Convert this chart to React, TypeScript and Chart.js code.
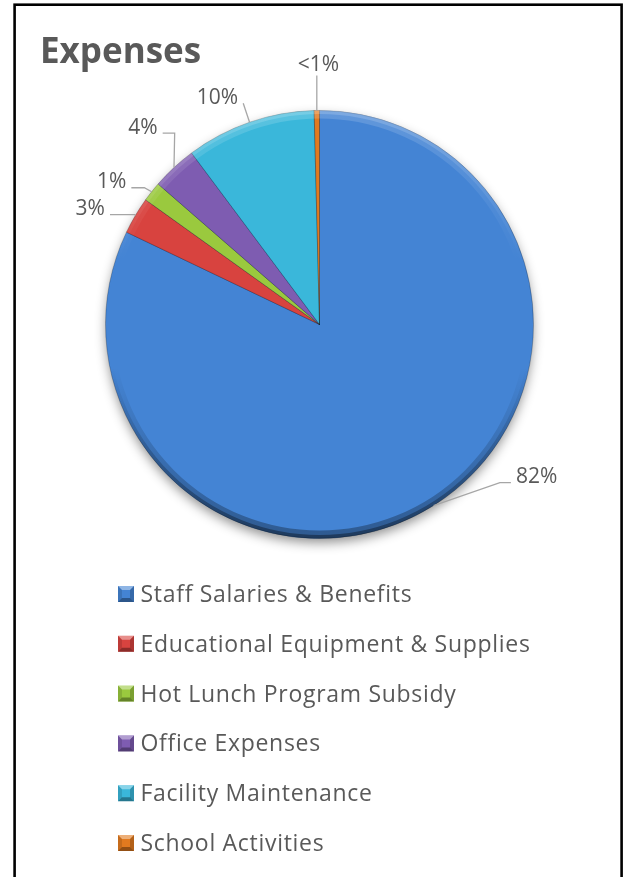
import React, { useEffect, useRef } from "react";
import { Chart, registerables } from "chart.js";

Chart.register(...registerables);

// ---- data ----
const TITLE = "Expenses";
const categories = [
  "Staff Salaries & Benefits",
  "Educational Equipment & Supplies",
  "Hot Lunch Program Subsidy",
  "Office Expenses",
  "Facility Maintenance",
  "School Activities",
];
const shares = [82.1, 2.8, 1.5, 3.4, 9.8, 0.4];
const shareLabels = ["82%", "3%", "1%", "4%", "10%", "<1%"];

// ---- styles ----
const sliceColors = ["#4484D4", "#D8433F", "#9AC93E", "#7E5CB1", "#3AB7DA", "#E27A1F"];
const TEXT = "#595959";
const FONT = "'Open Sans', 'Noto Sans', 'DejaVu Sans', sans-serif";
const W = 625;
const H = 877;

// label placement: text centre offset from the slice anchor, side the leader leaves from, elbow length
const labelLayout = [
  { dx: 103, dy: -30, side: "left", elbow: 11 },
  { dx: -45, dy: -8, side: "right", elbow: 25 },
  { dx: -40, dy: -11, side: "right", elbow: 13 },
  { dx: -31, dy: -41.5, side: "right", elbow: 12 },
  { dx: -32, dy: -26, side: "right", elbow: 0 },
  { dx: 1.6, dy: -47, side: "below", elbow: 0 },
];

function pieGeom(chart: any) {
  const el: any = chart.getDatasetMeta(0).data[0];
  return { cx: el.x, cy: el.y, r: el.outerRadius };
}

const shadowPlugin = {
  id: "pieShadow",
  beforeDatasetsDraw(chart: any) {
    const { ctx } = chart;
    const { cx, cy, r } = pieGeom(chart);
    ctx.save();
    ctx.shadowColor = "rgba(0,0,0,0.45)";
    ctx.shadowBlur = 12;
    ctx.shadowOffsetY = 5;
    ctx.fillStyle = sliceColors[0];
    ctx.beginPath();
    ctx.arc(cx, cy, r - 1, 0, Math.PI * 2);
    ctx.fill();
    ctx.restore();
  },
  afterDatasetsDraw(chart: any) {
    const { ctx } = chart;
    const { cx, cy, r } = pieGeom(chart);
    ctx.save();
    ctx.beginPath();
    ctx.arc(cx, cy, r, 0, Math.PI * 2);
    ctx.clip();
    const passes = [
      { w: 16, a: 0.2 },
      { w: 7, a: 0.22 },
    ];
    for (const p of passes) {
      const g = ctx.createLinearGradient(0, cy - r, 0, cy + r);
      g.addColorStop(0, `rgba(255,255,255,${p.a * 0.8})`);
      g.addColorStop(0.35, "rgba(255,255,255,0)");
      g.addColorStop(0.6, "rgba(0,0,0,0)");
      g.addColorStop(1, `rgba(0,0,0,${p.a * 1.6})`);
      ctx.lineWidth = p.w;
      ctx.strokeStyle = g;
      ctx.beginPath();
      ctx.arc(cx, cy, r, 0, Math.PI * 2);
      ctx.stroke();
    }
    ctx.restore();
  },
};

const labelPlugin = {
  id: "sliceLabels",
  afterDraw(chart: any) {
    const { ctx } = chart;
    const meta = chart.getDatasetMeta(0);
    const size = 21;
    const capH = size * 0.714;
    ctx.save();
    ctx.font = `${size}px ${FONT}`;
    ctx.textAlign = "center";
    ctx.textBaseline = "alphabetic";
    meta.data.forEach((el: any, i: number) => {
      const mid = (el.startAngle + el.endAngle) / 2;
      const ax = el.x + el.outerRadius * Math.cos(mid);
      const ay = el.y + el.outerRadius * Math.sin(mid);
      const lay = labelLayout[i];
      const tx = ax + lay.dx;
      const ty = ay + lay.dy;
      const text = shareLabels[i];
      const tw = ctx.measureText(text).width;
      ctx.strokeStyle = "#A6A6A6";
      ctx.lineWidth = 1.3;
      ctx.beginPath();
      if (lay.side === "below") {
        ctx.moveTo(ax, ty + 12);
        ctx.lineTo(ax, ay);
      } else if (lay.side === "left") {
        const sx = tx - tw / 2 - 5;
        const sy = ty + 7;
        ctx.moveTo(sx, sy);
        ctx.lineTo(sx - lay.elbow, sy);
        ctx.lineTo(ax, ay);
      } else {
        const sx = tx + tw / 2 + 5;
        const sy = ty + 7;
        ctx.moveTo(sx, sy);
        ctx.lineTo(sx + lay.elbow, sy);
        ctx.lineTo(ax, ay);
      }
      ctx.stroke();
      ctx.fillStyle = TEXT;
      ctx.fillText(text, tx, ty + capH / 2);
    });
    ctx.restore();
  },
};

function drawMarker(ctx: CanvasRenderingContext2D, x: number, y: number, s: number, color: string) {
  const b = 4;
  ctx.fillStyle = color;
  ctx.fillRect(x, y, s, s);
  const face = (pts: number[][], fill: string) => {
    ctx.fillStyle = fill;
    ctx.beginPath();
    ctx.moveTo(pts[0][0], pts[0][1]);
    for (let k = 1; k < pts.length; k++) ctx.lineTo(pts[k][0], pts[k][1]);
    ctx.closePath();
    ctx.fill();
  };
  face([[x, y], [x + s, y], [x + s - b, y + b], [x + b, y + b]], "rgba(255,255,255,0.4)");
  face([[x, y + s], [x + s, y + s], [x + s - b, y + s - b], [x + b, y + s - b]], "rgba(0,0,0,0.35)");
  face([[x, y], [x + b, y + b], [x + b, y + s - b], [x, y + s]], "rgba(0,0,0,0.12)");
  face([[x + s, y], [x + s - b, y + b], [x + s - b, y + s - b], [x + s, y + s]], "rgba(0,0,0,0.2)");
}

const decorPlugin = {
  id: "decor",
  afterDraw(chart: any) {
    const { ctx } = chart;
    ctx.save();
    ctx.fillStyle = TEXT;
    ctx.font = `bold 35px ${FONT}`;
    ctx.textAlign = "left";
    ctx.textBaseline = "alphabetic";
    ctx.fillText(TITLE, 40, 63);
    const labels: string[] = chart.data.labels;
    const colors: string[] = chart.data.datasets[0].backgroundColor;
    ctx.font = `23px ${FONT}`;
    if ("letterSpacing" in ctx) (ctx as any).letterSpacing = "0.7px";
    labels.forEach((lab, i) => {
      const base = 602 + i * 49.8;
      drawMarker(ctx, 118, base - 16, 16, colors[i]);
      ctx.fillStyle = TEXT;
      ctx.fillText(lab, 140.5, base);
    });
    if ("letterSpacing" in ctx) (ctx as any).letterSpacing = "0px";
    ctx.strokeStyle = "#000";
    ctx.lineWidth = 2.6;
    ctx.strokeRect(14.6, 4.7, 607, 1000);
    ctx.restore();
  },
};

export default function App() {
  const ref = useRef<HTMLCanvasElement>(null);
  useEffect(() => {
    const chart = new Chart(ref.current as HTMLCanvasElement, {
      type: "pie",
      data: {
        labels: categories,
        datasets: [
          {
            data: shares,
            backgroundColor: sliceColors,
            borderColor: "rgba(0,0,0,0.22)",
            borderWidth: 1,
          },
        ],
      },
      options: {
        responsive: false,
        animation: false,
        devicePixelRatio: 1,
        layout: { padding: { left: 105, right: 91, top: 110, bottom: 338 } },
        plugins: {
          legend: { display: false },
          tooltip: { enabled: false },
          title: { display: false },
        },
      },
      plugins: [shadowPlugin, labelPlugin, decorPlugin],
    });
    return () => chart.destroy();
  }, []);
  return (
    <div style={{ position: "absolute", left: 0, top: 0, width: W, height: H, background: "#fff" }}>
      <canvas ref={ref} width={W} height={H} style={{ width: W, height: H, display: "block" }} />
    </div>
  );
}
